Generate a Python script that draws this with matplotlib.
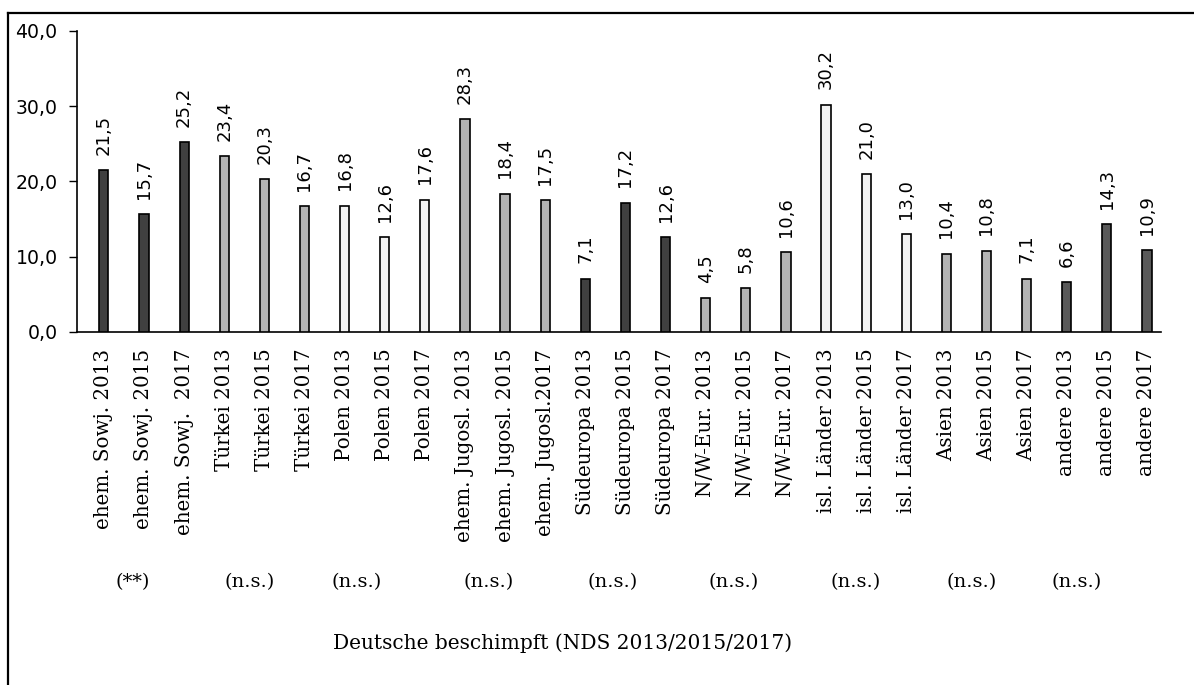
import numpy as np
import matplotlib.pyplot as plt
from matplotlib.lines import Line2D

# data
labels = [
    "ehem. Sowj. 2013", "ehem. Sowj. 2015", "ehem. Sowj.  2017",
    "Türkei 2013", "Türkei 2015", "Türkei 2017",
    "Polen 2013", "Polen 2015", "Polen 2017",
    "ehem. Jugosl. 2013", "ehem. Jugosl. 2015", "ehem. Jugosl.2017",
    "Südeuropa 2013", "Südeuropa 2015", "Südeuropa 2017",
    "N/W-Eur. 2013", "N/W-Eur. 2015", "N/W-Eur. 2017",
    "isl. Länder 2013", "isl. Länder 2015", "isl. Länder 2017",
    "Asien 2013", "Asien 2015", "Asien 2017",
    "andere 2013", "andere 2015", "andere 2017",
]
values = [21.5, 15.7, 25.2, 23.4, 20.3, 16.7, 16.8, 12.6, 17.6,
          28.3, 18.4, 17.5, 7.1, 17.2, 12.6, 4.5, 5.8, 10.6,
          30.2, 21.0, 13.0, 10.4, 10.8, 7.1, 6.6, 14.3, 10.9]
group_colors = ["#404040", "#b3b3b3", "#f2f2f2", "#b3b3b3", "#404040",
                "#b3b3b3", "#f2f2f2", "#b3b3b3", "#595959"]

sig_labels = ["(**)", "(n.s.)", "(n.s.)", "(n.s.)", "(n.s.)",
              "(n.s.)", "(n.s.)", "(n.s.)", "(n.s.)"]
# where the significance text boxes sit, in category units
sig_pos = [0.72, 3.64, 6.31, 9.60, 12.69, 15.69, 18.73, 21.62, 24.24]

title = "Deutsche beschimpft (NDS 2013/2015/2017)"

SERIF = "DejaVu Serif"
SANS = "DejaVu Sans"

colors = [c for c in group_colors for _ in range(3)]
x = np.arange(len(values))

fig = plt.figure(figsize=(11.94, 6.85), dpi=100)
ax = fig.add_axes([77 / 1194, 1 - 332 / 685, (1161 - 77) / 1194, (332 - 31) / 685])

ax.bar(x, values, width=0.23, color=colors, edgecolor="black", linewidth=1.2, zorder=3)

for xi, v in zip(x, values):
    ax.annotate(f"{v:.1f}".replace(".", ","), (xi, v), xytext=(0, 11),
                textcoords="offset points", rotation=90, ha="center", va="bottom",
                fontsize=13, family=SANS)

ax.set_xlim(-0.67, 26.35)
ax.set_ylim(0, 40)
ax.set_yticks(np.arange(0, 41, 10))
ax.set_yticklabels([f"{t:.1f}".replace(".", ",") for t in np.arange(0, 41, 10)],
                   fontsize=13.6, family=SANS)
ax.tick_params(axis="y", length=6, width=1, pad=8)
ax.set_xticks(x)
ax.set_xticklabels(labels, rotation=90, fontsize=14.3, family=SERIF, va="top")
ax.tick_params(axis="x", length=0, pad=12)

for s in ["top", "right"]:
    ax.spines[s].set_visible(False)
ax.spines["left"].set_linewidth(1.2)
ax.spines["bottom"].set_linewidth(1.2)

sig_y = -(582 - 332) / (332 - 31)
for xp, txt in zip(sig_pos, sig_labels):
    ax.text(xp, sig_y, txt, transform=ax.get_xaxis_transform(), ha="center", va="center",
            fontsize=14, family=SERIF)

fig.text(563 / 1194, 1 - 643 / 685, title, ha="center", va="center",
         fontsize=14.5, family=SERIF)

# outer frame (only top and left visible, like the reference)
fig.add_artist(Line2D([8 / 1194, 1], [1 - 13 / 685, 1 - 13 / 685],
                      transform=fig.transFigure, color="black", linewidth=1.6))
fig.add_artist(Line2D([8 / 1194, 8 / 1194], [0, 1 - 13 / 685],
                      transform=fig.transFigure, color="black", linewidth=1.6))

fig.savefig("out.png", dpi=100)
